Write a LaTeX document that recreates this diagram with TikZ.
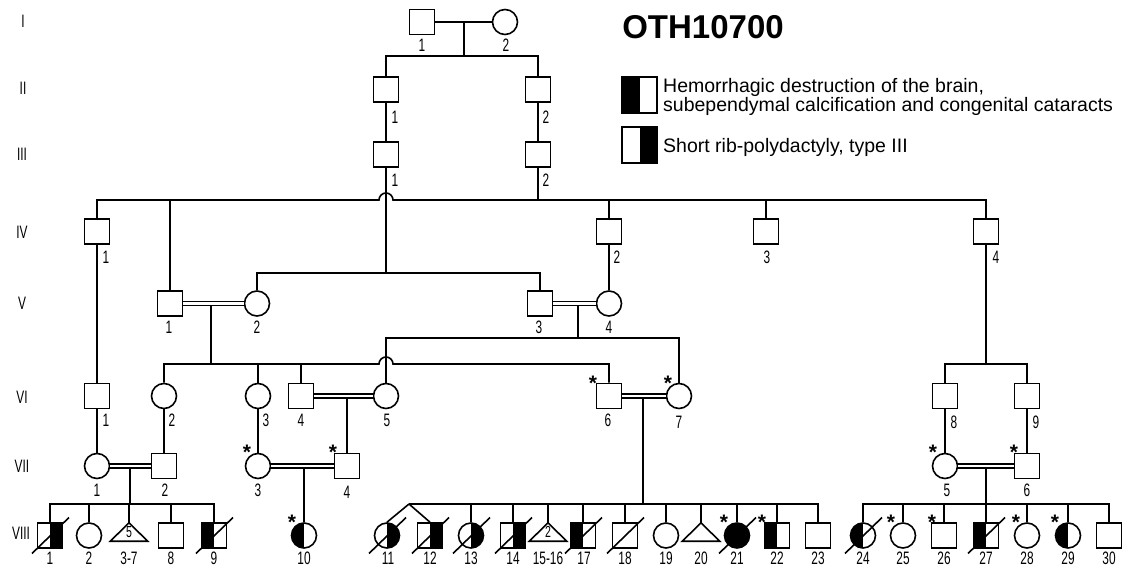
\documentclass[tikz,border=0pt]{standalone}
\usepackage{fontspec}
\setmainfont{Liberation Sans}
\newfontfamily\narrowfont[FakeStretch=0.66]{Liberation Sans}
\usetikzlibrary{calc}
\tikzset{
  rel/.style={line width=1.6pt},
  male/.style={draw, line width=1.6pt, rectangle, minimum size=25pt, inner sep=0pt, fill=white},
  female/.style={draw, line width=1.6pt, circle, minimum size=25pt, inner sep=0pt, fill=white},
  preg/.style={rectangle, minimum width=37pt, minimum height=18pt, inner sep=0pt, font=\narrowfont\fontsize{16}{16}\selectfont},
  lhalf/.style={path picture={\fill[black] (path picture bounding box.south west) rectangle (path picture bounding box.north);}},
  rhalf/.style={path picture={\fill[black] (path picture bounding box.south) rectangle (path picture bounding box.north east);}},
  affected/.style={fill=black},
  num/.style={font=\narrowfont\fontsize{18}{18}\selectfont, inner sep=0pt},
  star/.style={font=\bfseries\fontsize{21}{22}\selectfont, inner sep=0pt, anchor=base},
  cons/.style={double, double distance=2.4pt, line width=1.4pt},
  legtext/.style={font=\fontsize{19.5}{19.5}\selectfont, inner sep=0pt, anchor=west},
}
\newcommand\deceased[1]{\draw[rel] ([shift={(-18,18)}]#1.center) -- ([shift={(19,-18)}]#1.center);}
\newcommand\lab[4]{\node[num] (#1) at (#2,#3) {#4};}
\newcommand\astr[3]{\node[star] (#1) at (#2,#3+12) {*};}
\begin{document}
\begin{tikzpicture}[x=1pt,y=-1pt]
\useasboundingbox (0,0) rectangle (1122,567);
% generation labels
\lab{gI}{23}{21}{I}
\lab{gII}{23}{88}{II}
\lab{gIII}{22}{154}{III}
\lab{gIV}{22}{232}{IV}
\lab{gV}{22}{303}{V}
\lab{gVI}{22}{397}{VI}
\lab{gVII}{22}{466}{VII}
\lab{gVIII}{21}{533}{VIII}
% title and legend
\node[font=\bfseries\fontsize{33}{36}\selectfont, inner sep=0pt] (title) at (703,27) {OTH10700};
\node[male, minimum width=35pt, minimum height=36pt, lhalf] (L1) at (639.5,95) {};
\node[male, minimum width=35pt, minimum height=36pt, rhalf] (L2) at (639.5,145) {};
\node[legtext, align=left] (LT1) at (663,97) {Hemorrhagic destruction of the brain,\\subependymal calcification and congenital cataracts};
\node[legtext] (LT2) at (663,147) {Short rib-polydactyly, type III};
% Generation I
\node[male] (I1) at (422,22) {};
\node[female] (I2) at (505,22) {};
\lab{nI1}{422}{45}{1}
\lab{nI2}{506}{45}{2}
% Generation II, III
\node[male] (II1) at (386,89.5) {};
\node[male] (II2) at (538,89.5) {};
\lab{nII1}{395}{117}{1}
\lab{nII2}{546}{117}{2}
\node[male] (III1) at (386,154.5) {};
\node[male] (III2) at (538,154.5) {};
\lab{nIII1}{395}{180}{1}
\lab{nIII2}{546}{180}{2}
% Generation IV
\node[male] (IV1) at (97,231.5) {};
\node[male] (IV2) at (609,231.5) {};
\node[male] (IV3) at (766,231.5) {};
\node[male] (IV4) at (986,231.5) {};
\lab{nIV1}{106}{257}{1}
\lab{nIV2}{617}{257}{2}
\lab{nIV3}{767}{257}{3}
\lab{nIV4}{996}{257}{4}
% Generation V
\node[male] (V1) at (170,303.5) {};
\node[female] (V2) at (257,303.5) {};
\node[male] (V3) at (540,303.5) {};
\node[female] (V4) at (609,303.5) {};
\lab{nV1}{169}{327}{1}
\lab{nV2}{257}{327}{2}
\lab{nV3}{539}{327}{3}
\lab{nV4}{609}{327}{4}
% Generation VI
\node[male] (VI1) at (97,396) {};
\node[female] (VI2) at (164,396) {};
\node[female] (VI3) at (258,396) {};
\node[male] (VI4) at (301,396) {};
\node[female] (VI5) at (386,396) {};
\node[male] (VI6) at (609,396) {};
\node[female] (VI7) at (679,396) {};
\node[male] (VI8) at (945,396) {};
\node[male] (VI9) at (1027,396) {};
\lab{nVI1}{106}{420}{1}
\lab{nVI2}{172}{420}{2}
\lab{nVI3}{266}{420}{3}
\lab{nVI4}{301}{420}{4}
\lab{nVI5}{387}{420}{5}
\lab{nVI6}{608}{420}{6}
\lab{nVI7}{679}{422}{7}
\lab{nVI8}{954}{422}{8}
\lab{nVI9}{1036}{422}{9}
\astr{sVI6}{593}{378}
\astr{sVI7}{668}{378}
% Generation VII
\node[female] (VII1) at (97,466) {};
\node[male] (VII2) at (164,466) {};
\node[female] (VII3) at (258,466) {};
\node[male] (VII4) at (347,466) {};
\node[female] (VII5) at (945,466) {};
\node[male] (VII6) at (1027,466) {};
\lab{nVII1}{97}{490}{1}
\lab{nVII2}{165}{490}{2}
\lab{nVII3}{258}{490}{3}
\lab{nVII4}{347}{492}{4}
\lab{nVII5}{947}{490}{5}
\lab{nVII6}{1027}{490}{6}
\astr{sVII3}{247}{447}
\astr{sVII4}{333}{447}
\astr{sVII5}{933}{447}
\astr{sVII6}{1014}{447}
% Generation VIII
\node[male, rhalf] (VIII1) at (50,535.5) {};
\node[female] (VIII2) at (89,535.5) {};
\node[preg] (VIII3) at (129,532) {5};
\node[male] (VIII8) at (171,535.5) {};
\node[male, lhalf] (VIII9) at (214,535.5) {};
\node[female, lhalf] (VIII10) at (304,535.5) {};
\node[female, rhalf] (VIII11) at (387,535.5) {};
\node[male, rhalf] (VIII12) at (430,535.5) {};
\node[female, rhalf] (VIII13) at (471,535.5) {};
\node[male, rhalf] (VIII14) at (513,535.5) {};
\node[preg] (VIII15) at (548,532) {2};
\node[male, lhalf] (VIII17) at (583,535.5) {};
\node[male] (VIII18) at (625,535.5) {};
\node[female] (VIII19) at (666,535.5) {};
\node[preg] (VIII20) at (701,532) {};
\node[female, affected] (VIII21) at (737,535.5) {};
\node[male, lhalf] (VIII22) at (777,535.5) {};
\node[male] (VIII23) at (818,535.5) {};
\node[female, lhalf] (VIII24) at (863,535.5) {};
\node[female] (VIII25) at (903,535.5) {};
\node[male] (VIII26) at (944,535.5) {};
\node[male, lhalf] (VIII27) at (986,535.5) {};
\node[female] (VIII28) at (1027,535.5) {};
\node[female, lhalf] (VIII29) at (1068,535.5) {};
\node[male] (VIII30) at (1109,535.5) {};
\foreach \t in {VIII3,VIII15,VIII20}{\draw[rel, line join=miter] (\t.south west) -- (\t.north) -- (\t.south east) -- cycle;}
\foreach \d in {VIII1,VIII9,VIII11,VIII12,VIII13,VIII14,VIII17,VIII18,VIII21,VIII24,VIII27}{\deceased{\d}}
\lab{nVIII1}{50}{558}{1}
\lab{nVIII2}{89}{558}{2}
\lab{nVIII3}{129}{558}{3-7}
\lab{nVIII8}{171}{558}{8}
\lab{nVIII9}{214}{558}{9}
\lab{nVIII10}{304}{558}{10}
\lab{nVIII11}{388}{558}{11}
\lab{nVIII12}{430}{558}{12}
\lab{nVIII13}{471}{558}{13}
\lab{nVIII14}{513}{558}{14}
\lab{nVIII15}{548}{558}{15-16}
\lab{nVIII17}{584}{558}{17}
\lab{nVIII18}{625}{558}{18}
\lab{nVIII19}{666}{558}{19}
\lab{nVIII20}{701}{558}{20}
\lab{nVIII21}{737}{558}{21}
\lab{nVIII22}{777}{558}{22}
\lab{nVIII23}{818}{558}{23}
\lab{nVIII24}{863}{558}{24}
\lab{nVIII25}{903}{558}{25}
\lab{nVIII26}{944}{558}{26}
\lab{nVIII27}{986}{558}{27}
\lab{nVIII28}{1027}{558}{28}
\lab{nVIII29}{1068}{558}{29}
\lab{nVIII30}{1109}{558}{30}
\astr{sVIII10}{292}{517}
\astr{sVIII21}{724}{517}
\astr{sVIII22}{762}{517}
\astr{sVIII25}{891}{517}
\astr{sVIII26}{932}{517}
\astr{sVIII28}{1016}{517}
\astr{sVIII29}{1055}{517}
% ---------- connectors ----------
% I
\draw[rel] (I1) -- (I2);
\coordinate (mI) at (464,22);
\coordinate (sI) at (464,56);
\draw[rel] (mI) -- (sI);
\draw[rel] (II1.north) |- (sI) -| (II2.north);
\draw[rel] (II1) -- (III1);
\draw[rel] (II2) -- (III2);
% IV sibship
\coordinate (sIV) at (538,200);
\coordinate (hopIV) at (379,200);
\draw[rel] (IV1.north) |- (hopIV) arc[start angle=180, end angle=0, radius=7pt] -| (IV4.north);
\draw[rel] (III2.south) -- (sIV);
\draw[rel] (V1.north) -- (V1.north |- sIV);
\draw[rel] (IV2.north) -- (IV2.north |- sIV);
\draw[rel] (IV3.north) -- (IV3.north |- sIV);
% III1 to V2/V3
\coordinate (sV) at (386,273);
\draw[rel] (III1.south) -- (sV);
\draw[rel] (V2.north) |- (sV) -| (V3.north);
\draw[rel] (IV1) -- (VI1);
\draw[rel] (IV2) -- (V4);
% IV4 children
\coordinate (sVI89) at (986,364);
\draw[rel] (IV4.south) -- (sVI89);
\draw[rel] (VI8.north) |- (sVI89) -| (VI9.north);
% V1 x V2
\draw[cons] (V1) -- (V2);
\coordinate (mV12) at (211,305);
\coordinate (sVIa) at (211,364);
\coordinate (hopVI) at (379,364);
\draw[rel] (mV12) -- (sVIa);
\draw[rel] (VI2.north) |- (hopVI) arc[start angle=180, end angle=0, radius=7pt] -| (VI6.north);
\draw[rel] (VI3.north) -- (VI3.north |- sVIa);
\draw[rel] (VI4.north) -- (VI4.north |- sVIa);
% V3 x V4
\draw[cons] (V3) -- (V4);
\coordinate (mV34) at (578,305);
\coordinate (sVIb) at (578,338);
\draw[rel] (mV34) -- (sVIb);
\draw[rel] (VI5.north) |- (sVIb) -| (VI7.north);
% VI couples
\draw[cons] (VI4) -- (VI5);
\coordinate (mVI45) at (347,397.5);
\draw[rel] (mVI45) -- (VII4.north);
\draw[cons] (VI6) -- (VI7);
\coordinate (mVI67) at (643,397.5);
\coordinate (sVIIIb) at (643,504);
\draw[rel] (mVI67) -- (sVIIIb);
% VI to VII
\draw[rel] (VI1) -- (VII1);
\draw[rel] (VI2) -- (VII2);
\draw[rel] (VI3) -- (VII3);
\draw[rel] (VI8) -- (VII5);
\draw[rel] (VI9) -- (VII6);
% VII1 x VII2
\draw[cons] (VII1) -- (VII2);
\coordinate (mVII12) at (130,467.5);
\coordinate (sVIIIa) at (130,504);
\draw[rel] (mVII12) -- (sVIIIa);
\draw[rel] (VIII1.north) |- (sVIIIa) -| (VIII9.north);
\foreach \c in {VIII2,VIII3,VIII8}{\draw[rel] (\c.north) -- (\c.north |- sVIIIa);}
% VII3 x VII4
\draw[cons] (VII3) -- (VII4);
\coordinate (mVII34) at (304,467.5);
\draw[rel] (mVII34) -- (VIII10.north);
% VI6 x VI7 children
\coordinate (tw) at (409,504);
\draw[rel] (tw) -| (VIII23.north);
\draw[rel] (tw) -- (VIII11.north);
\draw[rel] (tw) -- (VIII12.north);
\foreach \c in {VIII13,VIII14,VIII15,VIII17,VIII18,VIII19,VIII20,VIII21,VIII22}{\draw[rel] (\c.north) -- (\c.north |- sVIIIb);}
% VII5 x VII6
\draw[cons] (VII5) -- (VII6);
\coordinate (mVII56) at (986,467.5);
\coordinate (sVIIIc) at (986,504);
\draw[rel] (mVII56) -- (sVIIIc);
\draw[rel] (VIII24.north) |- (sVIIIc) -| (VIII30.north);
\foreach \c in {VIII25,VIII26,VIII27,VIII28,VIII29}{\draw[rel] (\c.north) -- (\c.north |- sVIIIc);}
\end{tikzpicture}
\end{document}
